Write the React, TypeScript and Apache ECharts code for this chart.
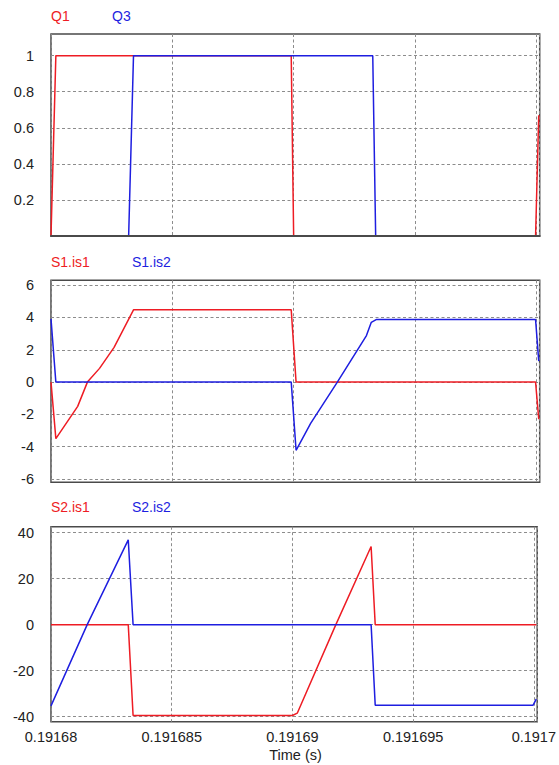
import React, { useEffect, useRef } from "react";
import * as echarts from "echarts";

// ---- data (time in seconds) ----
const q1Time = [0.19168, 0.1916802, 0.1916899, 0.19169, 0.19169997, 0.1917001];
const q1Value = [0, 1, 1, 0, 0, 0.67];
const q3Time = [0.19168, 0.1916832, 0.1916834, 0.19169326, 0.19169338, 0.1917001];
const q3Value = [0, 0, 1, 1, 0, 0];

const s1is1Time = [0.19168, 0.1916802, 0.1916811, 0.1916815, 0.191682, 0.1916826, 0.1916834, 0.1916899, 0.1916901, 0.19169997, 0.1917001];
const s1is1Value = [0, -3.5, -1.5, 0, 0.85, 2.15, 4.47, 4.47, 0, 0, -2.3];
const s1is2Time = [0.19168, 0.1916802, 0.1916899, 0.1916901, 0.1916907, 0.1916918, 0.191693, 0.1916932, 0.1916934, 0.19169997, 0.1917001];
const s1is2Value = [3.91, 0, 0, -4.22, -2.55, 0, 2.88, 3.7, 3.87, 3.87, 1.3];

const s2is1Time = [0.19168, 0.1916832, 0.1916834, 0.19169, 0.1916902, 0.1916918, 0.19169326, 0.19169343, 0.1917001];
const s2is1Value = [0, 0, -39.5, -39.5, -38.5, 0, 34, 0, 0];
const s2is2Time = [0.19168, 0.1916815, 0.1916832, 0.1916834, 0.19169326, 0.19169343, 0.19169997, 0.1917001];
const s2is2Value = [-35.3, 0, 36.9, 0, 0, -35, -35, -32.4];

const panelNames = [
  ["Q1", "Q3"],
  ["S1.is1", "S1.is2"],
  ["S2.is1", "S2.is2"],
];
// plot extent [min, max] and labelled tick range [first, last, step]
const yExtents = [
  [0, 1.12],
  [-6.2, 6.3],
  [-42.2, 42.6],
];
const yTicks = [
  [0, 1, 0.2],
  [-6, 6, 2],
  [-40, 40, 20],
];
const xMin = 0.19168;
const xMax = 0.19170014;
const xStep = 0.000005;
const xTitle = "Time (s)";

const RED = "#ee1c24";
const BLUE = "#1e1ee0";
const FONT = "Liberation Sans";

const zip = (t: number[], v: number[]) => t.map((x, i) => [x, v[i]]);

export default function App() {
  const ref = useRef<HTMLDivElement>(null);
  useEffect(() => {
    if (!ref.current) return;
    const chart = echarts.init(ref.current, null, { renderer: "svg" });
    const boxes = [
      { top: 34, height: 202 },
      { top: 280.3, height: 202 },
      { top: 526.7, height: 195 },
    ];
    const LEFT = 51;
    const RIGHT = 19.3;
    const grids: any[] = boxes.map((b) => ({
      left: LEFT,
      right: RIGHT,
      top: b.top,
      height: b.height,
      show: true,
      borderColor: "#4a4a4a",
      borderWidth: 1.5,
      backgroundColor: "transparent",
    }));
    // overlay grids covering only the labelled tick range (for horizontal grid lines and labels)
    boxes.forEach((b, i) => {
      const [mn, mx] = yExtents[i];
      const [t0, t1] = yTicks[i];
      const k = b.height / (mx - mn);
      grids.push({
        left: LEFT,
        right: RIGHT,
        top: b.top + (mx - t1) * k,
        height: (t1 - t0) * k,
        show: false,
      });
    });
    const splitLine = { show: true, lineStyle: { color: "#8c8c8c", type: [3, 2.5], width: 1 } };
    const xAxes: any[] = [0, 1, 2].map((i) => ({
      type: "value",
      gridIndex: i,
      min: xMin,
      max: xMax,
      interval: xStep,
      axisLine: { show: false },
      axisTick: { show: false },
      splitLine,
      axisLabel: {
        show: i === 2,
        interval: 0,
        margin: 8,
        color: "#222",
        fontFamily: FONT,
        fontSize: 14.5,
        formatter: (v: number) => (v > 0.1917 + 1e-9 ? "" : String(+v.toFixed(6))),
      },
    }));
    [3, 4, 5].forEach((g) =>
      xAxes.push({ type: "value", gridIndex: g, min: xMin, max: xMax, show: false })
    );
    // extra axis to draw the top panel's bottom border over the zero-level lines
    xAxes.push({
      type: "value",
      gridIndex: 0,
      min: xMin,
      max: xMax,
      position: "bottom",
      z: 5,
      axisLine: { show: true, lineStyle: { color: "#4a4a4a", width: 2 } },
      axisTick: { show: false },
      axisLabel: { show: false },
      splitLine: { show: false },
    });
    const yAxes: any[] = yExtents.map(([mn, mx], i) => ({
      type: "value",
      gridIndex: i,
      min: mn,
      max: mx,
      axisLine: { show: false },
      axisTick: { show: false },
      axisLabel: { show: false },
      splitLine: { show: false },
    }));
    yTicks.forEach(([t0, t1, step], i) => {
      yAxes.push({
        type: "value",
        gridIndex: 3 + i,
        min: t0,
        max: t1,
        interval: step,
        axisLine: { show: false },
        axisTick: { show: false },
        splitLine,
        axisLabel: {
          margin: 17,
          color: "#222",
          fontFamily: FONT,
          fontSize: 14.5,
          formatter: (v: number) => {
            if (i === 0 && Math.abs(v) < 1e-9) return "";
            return String(+v.toFixed(4));
          },
        },
      });
    });
    const mk = (name: string, idx: number, data: number[][], color: string) => ({
      name,
      type: "line",
      xAxisIndex: idx,
      yAxisIndex: idx,
      data,
      showSymbol: false,
      symbol: "none",
      z: 3,
      lineStyle: { color, width: 1.5 },
      itemStyle: { color },
    });
    const series = [
      mk(panelNames[0][0], 0, zip(q1Time, q1Value), RED),
      mk(panelNames[0][1], 0, zip(q3Time, q3Value), BLUE),
      mk(panelNames[1][0], 1, zip(s1is1Time, s1is1Value), RED),
      mk(panelNames[1][1], 1, zip(s1is2Time, s1is2Value), BLUE),
      mk(panelNames[2][0], 2, zip(s2is1Time, s2is1Value), RED),
      mk(panelNames[2][1], 2, zip(s2is2Time, s2is2Value), BLUE),
    ];
    const labelY = [16, 262, 507];
    const labelX = [[51, 112], [51, 132], [51, 132]];
    const graphic: any[] = [];
    panelNames.forEach((names, p) => {
      names.forEach((n, j) => {
        graphic.push({
          type: "text",
          x: labelX[p][j],
          y: labelY[p],
          style: {
            text: n,
            fill: j === 0 ? RED : BLUE,
            fontFamily: FONT,
            fontSize: 14,
            textVerticalAlign: "middle",
            verticalAlign: "middle",
          },
        });
      });
    });
    graphic.push({
      type: "text",
      x: 295.5,
      y: 755,
      style: {
        text: xTitle,
        fill: "#222",
        fontFamily: FONT,
        fontSize: 14.5,
        align: "center",
        textAlign: "center",
        verticalAlign: "middle",
        textVerticalAlign: "middle",
      },
    });
    chart.setOption({
      animation: false,
      backgroundColor: "#fff",
      grid: grids,
      xAxis: xAxes,
      yAxis: yAxes,
      series,
      graphic,
    });
    return () => chart.dispose();
  }, []);
  return (
    <div
      ref={ref}
      style={{ position: "fixed", left: 0, top: 0, width: 559, height: 765 }}
    />
  );
}
